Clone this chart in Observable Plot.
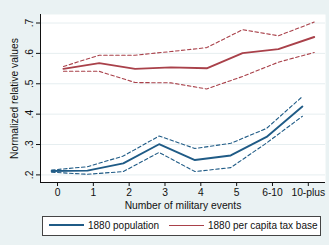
<!DOCTYPE html>
<html>
<head>
<meta charset="utf-8">
<script src="https://cdn.jsdelivr.net/npm/d3@7"></script>
<script src="https://cdn.jsdelivr.net/npm/@observablehq/plot@0.6"></script>
<style>
  html, body { margin: 0; padding: 0; background: #eaf2f3; }
  #wrap { position: relative; width: 329px; height: 245px; background: #eaf2f3; overflow: hidden;
          font-family: "Liberation Sans", Arial, Helvetica, sans-serif; }
  #legend { position: absolute; left: 42px; top: 216px; width: 277px; height: 18px;
            background: #fff; border: 1px solid #444; box-sizing: content-box;
            font-size: 10px; color: #111; }
  .item { position: absolute; top: 0; height: 18px; line-height: 18px; white-space: nowrap; }
  .sw { display: inline-block; width: 35px; vertical-align: middle; margin-right: 4px; position: relative; top: -1px; }
</style>
</head>
<body>
<div id="wrap">
  <div id="chart"></div>
  <div id="legend"></div>
</div>
<script>
const categories = ["0", "1", "2", "3", "4", "5", "6-10", "10-plus"];
const popMean = [0.213, 0.214, 0.238, 0.301, 0.249, 0.264, 0.325, 0.425];
const popLow  = [0.209, 0.202, 0.211, 0.274, 0.211, 0.224, 0.305, 0.393];
const popHigh = [0.216, 0.227, 0.262, 0.328, 0.287, 0.304, 0.353, 0.458];
const taxMean = [0.549, 0.568, 0.549, 0.554, 0.551, 0.601, 0.614, 0.654];
const taxLow  = [0.541, 0.541, 0.504, 0.503, 0.483, 0.524, 0.571, 0.603];
const taxHigh = [0.557, 0.594, 0.594, 0.606, 0.619, 0.678, 0.658, 0.703];
const yTicks = [0.2, 0.3, 0.4, 0.5, 0.6, 0.7];
const seriesNames = ["1880 population", "1880 per capita tax base"];

const blue = "#1f5b86";
const red = "#a9414a";
const xDomain = [-0.475, 7.48];
const yDomain = [0.175, 0.728];
const dodge = 0.165;

function rows(vals, off) {
  return vals.map((v, i) => ({x: i + off, y: v}));
}

const solid = {strokeWidth: 1.9};
const dashed = {strokeWidth: 1.1, strokeDasharray: "3.5,2.5"};

const chart = Plot.plot({
  width: 329,
  height: 212,
  marginTop: 14,
  marginLeft: 40,
  marginRight: 4,
  marginBottom: 30,
  style: {background: "transparent", fontFamily: "'Liberation Sans', Arial, Helvetica, sans-serif", fontSize: "10.3px", color: "#111"},
  x: {domain: xDomain, ticks: d3.range(categories.length)},
  y: {domain: yDomain, ticks: yTicks},
  marks: [
    Plot.frame({fill: "#fff", stroke: "none"}),
    Plot.gridY(yTicks, {stroke: "#e6eef0", strokeOpacity: 1, strokeWidth: 1}),
    Plot.ruleX([xDomain[0]], {stroke: "#111", strokeWidth: 1}),
    Plot.ruleY([yDomain[0]], {stroke: "#111", strokeWidth: 1}),
    Plot.line(rows(popHigh, -dodge), {x: "x", y: "y", stroke: blue, ...dashed}),
    Plot.line(rows(popLow, -dodge), {x: "x", y: "y", stroke: blue, ...dashed}),
    Plot.line(rows(popMean, -dodge), {x: "x", y: "y", stroke: blue, ...solid}),
    Plot.line(rows(taxHigh, dodge), {x: "x", y: "y", stroke: red, ...dashed}),
    Plot.line(rows(taxLow, dodge), {x: "x", y: "y", stroke: red, ...dashed}),
    Plot.line(rows(taxMean, dodge), {x: "x", y: "y", stroke: red, ...solid}),
    Plot.axisX(d3.range(categories.length), {
      tickFormat: i => categories[i], tickSize: 4, tickPadding: 2,
      label: "Number of military events", labelAnchor: "center", labelArrow: "none", labelOffset: 26,
      stroke: "#111"
    }),
    Plot.axisY(yTicks, {
      tickFormat: d => d.toFixed(1).replace(/^0/, ""), tickSize: 4, tickPadding: 4, tickRotate: -90,
      label: "Normalized relative values", labelAnchor: "center", labelArrow: "none", labelOffset: 30,
      stroke: "#111"
    })
  ]
});
document.getElementById("chart").appendChild(chart);

const legend = document.getElementById("legend");
const items = [
  {name: seriesNames[0], color: blue, left: 6, w: 2},
  {name: seriesNames[1], color: red, left: 126, w: 1}
];
for (const it of items) {
  const d = document.createElement("div");
  d.className = "item";
  d.style.left = it.left + "px";
  const sw = document.createElement("span");
  sw.className = "sw";
  sw.style.height = it.w + "px";
  sw.style.background = it.color;
  d.appendChild(sw);
  d.appendChild(document.createTextNode(it.name));
  legend.appendChild(d);
}
</script>
</body>
</html>
